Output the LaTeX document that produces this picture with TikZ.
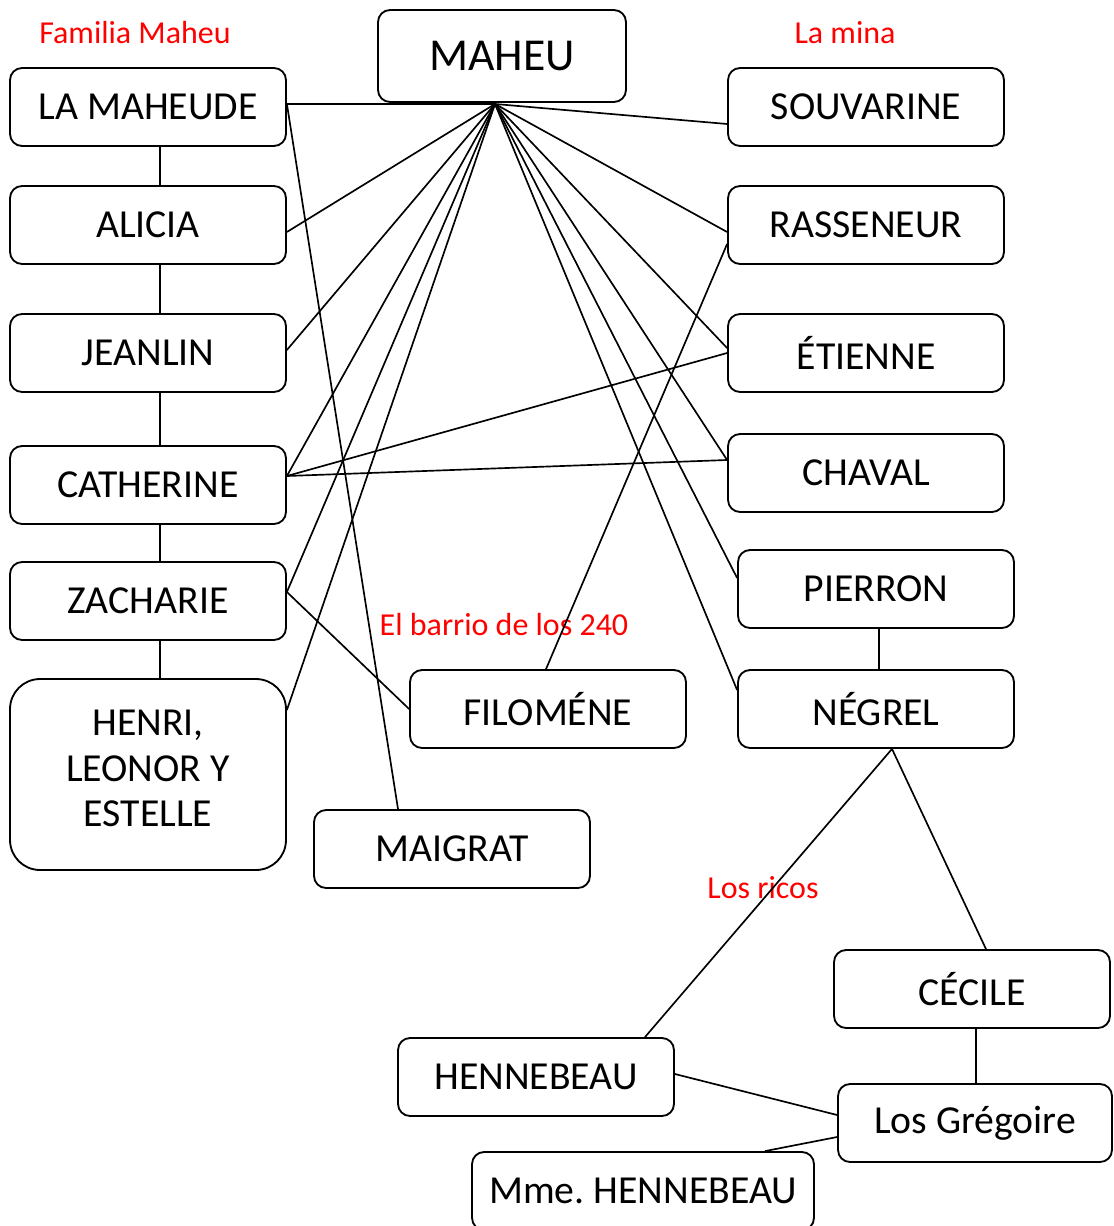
\documentclass[tikz,border=0pt]{standalone}
\usepackage{fontspec}
\setmainfont{Carlito}
\usetikzlibrary{calc}
\tikzset{
  person/.style={draw, rounded corners=0.24cm, minimum width=5.52cm, minimum height=1.56cm,
    line width=1.05pt, font=\fontsize{22.6}{27}\selectfont, inner sep=0pt},
  group/.style={text=red, font=\fontsize{18.2}{22}\selectfont},
  tie/.style={line width=0.95pt}
}
\begin{document}
\begin{tikzpicture}[x=0.02cm,y=-0.02cm]
\useasboundingbox (0,0) rectangle (1113,1226);
% la familia
\node[person, minimum width=4.96cm, minimum height=1.84cm, font=\fontsize{26}{31}\selectfont] (maheu) at (502,56) {MAHEU};
\node[person] (maheude) at (148,107) {LA MAHEUDE};
\node[person] (alicia) at (148,225) {ALICIA};
\node[person] (jeanlin) at (148,353) {JEANLIN};
\node[person] (catherine) at (148,485) {CATHERINE};
\node[person] (zacharie) at (148,601) {ZACHARIE};
\node[person, rounded corners=0.6cm, minimum height=3.82cm,
  label={[name=henritxt, align=center, yshift=0.12cm, font=\fontsize{22.6}{25.8}\selectfont]center:HENRI,\\LEONOR Y\\ESTELLE}]
  (henri) at (148,774.5) {};
\node[person] (maigrat) at (452,849) {MAIGRAT};
\node[person] (filomene) at (548,709) {FILOMÉNE};
% la mina
\node[person] (souvarine) at (866,107) {SOUVARINE};
\node[person] (rasseneur) at (866,225) {RASSENEUR};
\node[person] (etienne) at (866,353) {ÉTIENNE};
\node[person] (chaval) at (866,473) {CHAVAL};
\node[person] (pierron) at (876,589) {PIERRON};
\node[person] (negrel) at (876,709) {NÉGREL};
% los ricos
\node[person] (cecile) at (972,989) {CÉCILE};
\node[person] (hennebeau) at (536,1077) {HENNEBEAU};
\node[person, minimum width=5.48cm] (gregoire) at (975,1123) {Los Grégoire};
\node[person, minimum width=6.84cm] (mme) at (643,1191) {Mme.\ HENNEBEAU};

\node[group] (tfam) at (135,33) {Familia Maheu};
\node[group] (tmina) at (845,33) {La mina};
\node[group] (tbarrio) at (504,625) {El barrio de los 240};
\node[group] (tricos) at (763,888) {Los ricos};

\coordinate (hub) at (495,104);

% lineas de la familia
\foreach \a/\b in {maheude/alicia,alicia/jeanlin,jeanlin/catherine,catherine/zacharie,zacharie/henri}
  \draw[tie] ([xshift=0.24cm]\a.south) -- ([xshift=0.24cm]\b.north);
\draw[tie] ([yshift=0.06cm]maheude.east) -- (hub);
\draw[tie] (hub) -- ([yshift=-0.34cm]souvarine.west);
\draw[tie] (hub) -- ([yshift=-0.14cm]rasseneur.west);
\draw[tie] (hub) -- ([yshift=0.1cm]etienne.west);
\draw[tie] (hub) -- ([yshift=0.26cm]chaval.west);
\draw[tie] (hub) -- ([yshift=0.22cm]pierron.west);
\draw[tie] (hub) -- ([yshift=0.38cm]negrel.west);
\draw[tie] (hub) -- ([yshift=-0.14cm]alicia.east);
\draw[tie] (hub) -- ([yshift=0.06cm]jeanlin.east);
\draw[tie] (hub) -- ([yshift=0.18cm]catherine.east);
\draw[tie] (hub) -- ([yshift=0.18cm]zacharie.east);
\draw[tie] (hub) -- ([yshift=1.29cm]henri.east);
\draw[tie] ([yshift=0.18cm]catherine.east) -- (etienne.west);
\draw[tie] ([yshift=0.18cm]catherine.east) -- ([yshift=0.26cm]chaval.west);
\draw[tie] ([yshift=0.06cm]maheude.east) -- ([xshift=-1.08cm]maigrat.north);
\draw[tie] ([yshift=-0.38cm]rasseneur.west) -- ([xshift=-0.04cm]filomene.north);
\draw[tie] ([yshift=0.18cm]zacharie.east) -- (filomene.west);
\draw[tie] ([xshift=0.06cm]pierron.south) -- ([xshift=0.06cm]negrel.north);
% los ricos
\draw[tie] ([xshift=0.32cm]negrel.south) -- ([xshift=2.18cm]hennebeau.north);
\draw[tie] ([xshift=0.32cm]negrel.south) -- ([xshift=0.28cm]cecile.north);
\draw[tie] ([xshift=0.08cm]cecile.south) -- ([xshift=0.02cm]gregoire.north);
\draw[tie] ([yshift=0.06cm]hennebeau.east) -- ([yshift=0.16cm]gregoire.west);
\draw[tie] ([yshift=-0.28cm]gregoire.west) -- ([xshift=2.44cm]mme.north);
\end{tikzpicture}
\end{document}
